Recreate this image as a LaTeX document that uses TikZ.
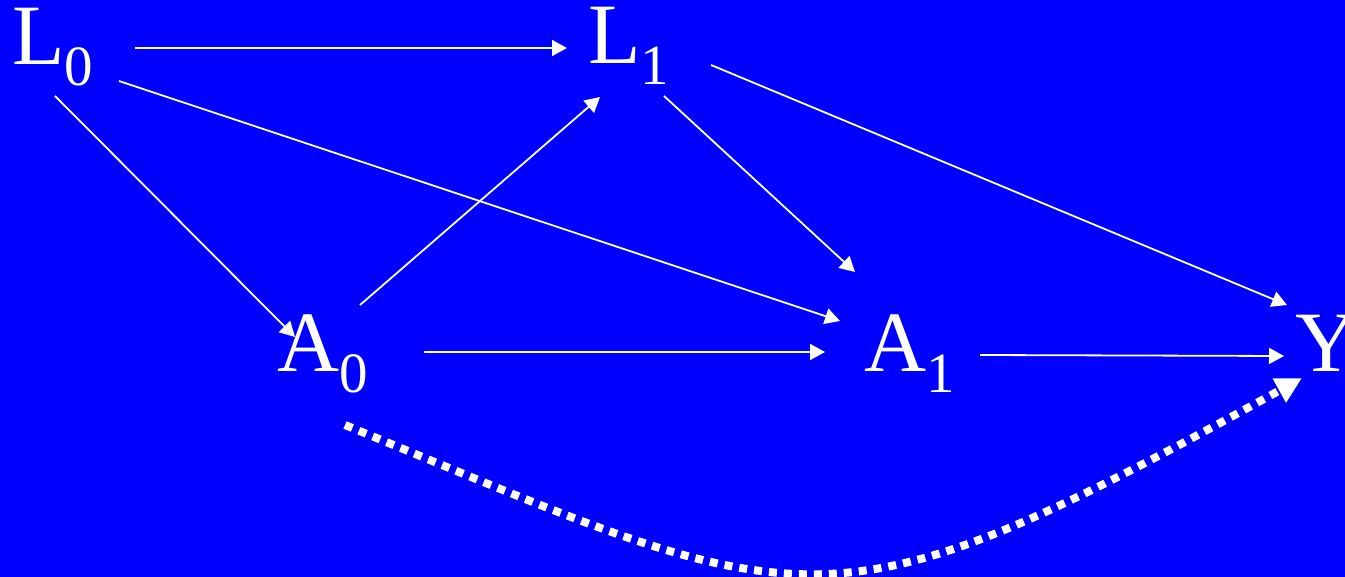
\documentclass[tikz,border=0pt]{standalone}
\usepackage{fontspec}
\setmainfont{Liberation Serif}
\usetikzlibrary{arrows.meta}
\newcommand\mysub[1]{\raisebox{-21pt}{\fontsize{57}{57}\selectfont #1}}
\begin{document}
\begin{tikzpicture}[x=1pt,y=-1pt,
  lab/.style={text=white,inner sep=0pt,anchor=base west,font=\fontsize{86}{86}\selectfont},
  arr/.style={draw=white,line width=1.8pt,-{Triangle[length=15pt,width=16pt]}},
  dotarr/.style={draw=white,line width=8pt,dash pattern=on 8pt off 7pt,-{Triangle[length=26pt,width=26pt]}}]
\fill[blue] (0,0) rectangle (1345,577);
\useasboundingbox (0,0) rectangle (1345,577);
\node[lab] (L0) at (12,65) {L\mysub{0}};
\node[lab] (L1) at (588,64) {L\mysub{1}};
\node[lab] (A0) at (277,372) {A\mysub{0}};
\node[lab] (A1) at (864,372) {A\mysub{1}};
\node[lab] (Y) at (1295,372) {Y};
\draw[arr] ([shift={(123,-17)}]L0.base west) -- ([shift={(-21,-16)}]L1.base west);
\draw[arr] ([shift={(43,31)}]L0.base west) -- ([shift={(18,-35)}]A0.base west);
\draw[arr] ([shift={(107,16)}]L0.base west) -- ([shift={(-24,-51)}]A1.base west);
\draw[arr] ([shift={(83,-67)}]A0.base west) -- ([shift={(12,33)}]L1.base west);
\draw[arr] ([shift={(76,32)}]L1.base west) -- ([shift={(-9,-100)}]A1.base west);
\draw[arr] ([shift={(123,1)}]L1.base west) -- ([shift={(-8,-67)}]Y.base west);
\draw[arr] ([shift={(147,-20)}]A0.base west) -- ([shift={(-39,-20)}]A1.base west);
\draw[arr] ([shift={(116,-17)}]A1.base west) -- ([shift={(-11,-16)}]Y.base west);
\draw[dotarr] ([shift={(68,53)}]A0.base west) .. controls (810,616) and (820,644) .. ([shift={(7,6)}]Y.base west);
\end{tikzpicture}
\end{document}
